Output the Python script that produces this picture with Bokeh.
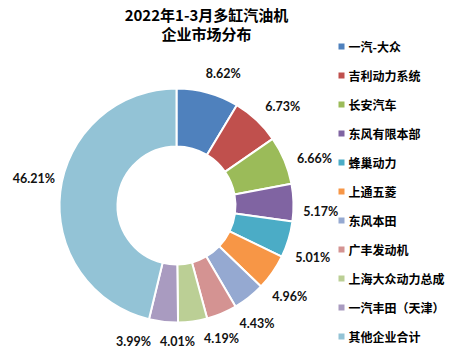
import math
from bokeh.plotting import figure
from bokeh.models import Range1d, ColumnDataSource
from bokeh.core.properties import value
from bokeh.embed import file_html
from bokeh.resources import INLINE

# ---- data ----
title_lines = ["2022年1-3月多缸汽油机", "企业市场分布"]
companies = ["一汽-大众", "吉利动力系统", "长安汽车", "东风有限本部", "蜂巢动力",
             "上通五菱", "东风本田", "广丰发动机", "上海大众动力总成", "一汽丰田（天津）", "其他企业合计"]
shares = [8.62, 6.73, 6.66, 5.17, 5.01, 4.96, 4.43, 4.19, 4.01, 3.99, 46.21]
colors = ["#4F81BD", "#C0504D", "#9BBB59", "#8064A2", "#4BACC6", "#F79646",
          "#95A9D1", "#D49392", "#BBCF95", "#A99BC0", "#93C3D6"]

W, H = 451, 351
CX, CY = 176, H - 205
R_OUT, R_IN = 117, 59
GAP, HALF_W, HALF_H = 10, 17, 8
LABEL_SHIFT_DEG = 4
MIN_DX, MIN_DY = 44, 14

total = sum(shares)
starts, ends, lx, ly, ltxt = [], [], [], [], []
cum = 0.0
for s in shares:
    a0 = math.pi / 2 - 2 * math.pi * cum / total
    cum += s
    a1 = math.pi / 2 - 2 * math.pi * cum / total
    starts.append(a0)
    ends.append(a1)
    mid = (a0 + a1) / 2 - math.radians(LABEL_SHIFT_DEG)
    c, si = math.cos(mid), math.sin(mid)
    r = R_OUT + GAP + abs(c) * HALF_W + abs(si) * HALF_H
    lx.append(CX + r * c)
    ly.append(CY + r * si)
    ltxt.append(f"{s:.2f}%")

# simple overlap resolution (like Excel's best fit)
for i in range(1, len(lx)):
    if abs(ly[i] - ly[i - 1]) < MIN_DY and abs(lx[i] - lx[i - 1]) < MIN_DX:
        if lx[i] < lx[i - 1]:
            lx[i] = lx[i - 1] - MIN_DX
        else:
            lx[i] = lx[i - 1] + MIN_DX

p = figure(width=W, height=H, output_backend="svg", toolbar_location=None,
           x_range=Range1d(0, W), y_range=Range1d(0, H), min_border=0)
p.axis.visible = False
p.grid.visible = False
p.outline_line_color = None
p.background_fill_color = "white"

src = ColumnDataSource(dict(start=starts, end=ends, color=colors))
p.annular_wedge(x=CX, y=CY, inner_radius=R_IN, outer_radius=R_OUT,
                inner_radius_units="screen", outer_radius_units="screen",
                start_angle="start", end_angle="end", direction="clock",
                fill_color="color", line_color="white", line_width=2, source=src)

p.text(x=lx, y=ly, text=ltxt, text_align="center", text_baseline="middle",
       text_font=value("Lato"), text_font_style="bold", text_font_size="12.5px",
       text_color="#111111")

# title
p.text(x=[206, 206], y=[H - 14, H - 33], text=title_lines, text_align="center",
       text_baseline="middle", text_font=value("Noto Sans CJK SC"),
       text_font_style="bold", text_font_size="15px", text_color="#000000")

# legend
leg_y = [H - (46 + 29 * i) for i in range(len(companies))]
p.rect(x=[341] * len(companies), y=leg_y, width=6, height=6,
       width_units="screen", height_units="screen", fill_color=colors, line_color=None)
p.text(x=[348] * len(companies), y=leg_y, text=companies, text_align="left",
       text_baseline="middle", text_font=value("Noto Sans CJK SC"),
       text_font_style="bold", text_font_size="12px", text_color="#000000")

open("out.html", "w").write(file_html(p, INLINE))
